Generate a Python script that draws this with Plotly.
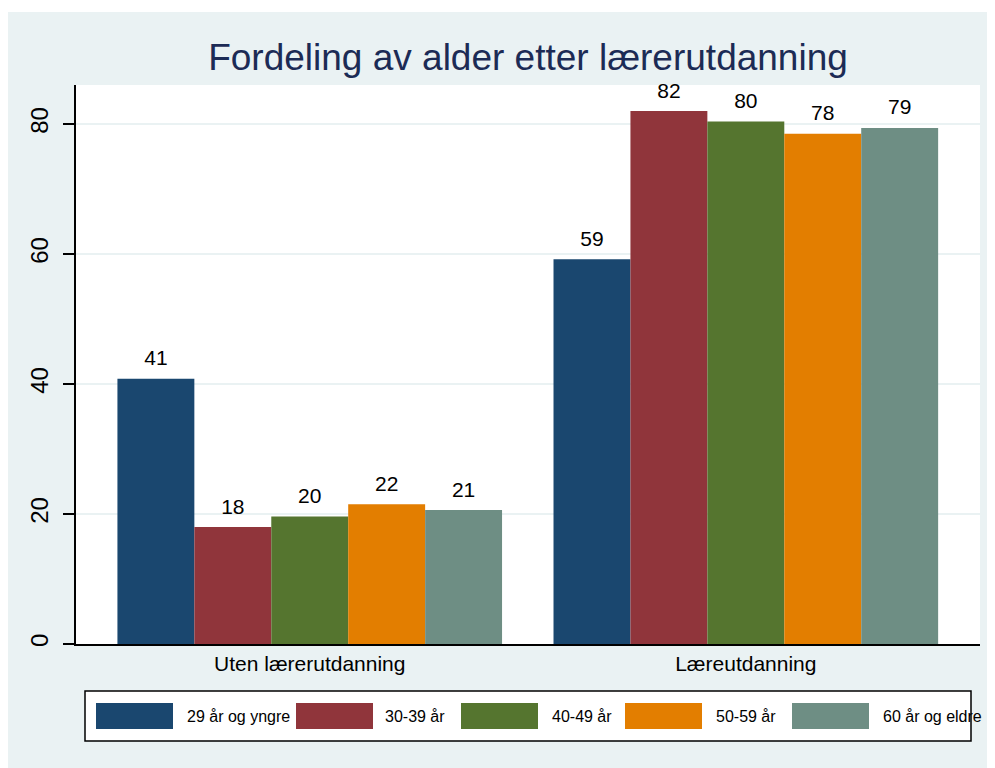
import plotly.graph_objects as go

categories = ["Uten lærerutdanning", "Læreutdanning"]
series_names = ["29 år og yngre", "30-39 år", "40-49 år", "50-59 år", "60 år og eldre"]
colors = ["#1a476f", "#90353b", "#55752f", "#e37e00", "#6e8e84"]
values = {
    "29 år og yngre": [40.8, 59.2],
    "30-39 år": [18.0, 82.0],
    "40-49 år": [19.6, 80.4],
    "50-59 år": [21.5, 78.5],
    "60 år og eldre": [20.6, 79.4],
}
labels = {
    "29 år og yngre": ["41", "59"],
    "30-39 år": ["18", "82"],
    "40-49 år": ["20", "80"],
    "50-59 år": ["22", "78"],
    "60 år og eldre": ["21", "79"],
}
y_ticks = [0, 20, 40, 60, 80]

OFF = 8  # page body margin
W, H = 995, 768
L, R, T, B = 76 - OFF, 980 - OFF, 85 - OFF, 644 - OFF
FONT = "Liberation Sans, Arial, sans-serif"
BG = "#eaf2f3"
LABEL_PAD = 1.0  # extra gap (axis units) between bar top and its label

fig = go.Figure()
for i, (name, col) in enumerate(zip(series_names, colors)):
    fig.add_trace(go.Bar(
        x=categories, y=values[name], name=name, offsetgroup=str(i),
        marker=dict(color=col, line=dict(width=0)),
        showlegend=False,
    ))
    # invisible spacer bar carrying the value label just above the real bar
    fig.add_trace(go.Bar(
        x=categories, y=[LABEL_PAD] * len(categories), base=values[name],
        offsetgroup=str(i), marker=dict(color="rgba(0,0,0,0)", line=dict(width=0)),
        text=labels[name], textposition="outside",
        textfont=dict(size=21, color="black", family=FONT),
        cliponaxis=False, showlegend=False, hoverinfo="skip",
    ))

def px_x(p):
    return (p - OFF - L) / (R - L)

def px_y(p):
    return (B - (p - OFF)) / (B - T)

shapes = []
annotations = []
shapes.append(dict(type="rect", xref="paper", yref="paper",
                   x0=px_x(85), x1=px_x(971), y0=px_y(741), y1=px_y(691),
                   line=dict(color="black", width=1.5), fillcolor="white", layer="below"))
sw_x = [96, 296, 461, 625, 792]
tx_x = [185, 383, 550, 714, 881]
for i, (name, col) in enumerate(zip(series_names, colors)):
    shapes.append(dict(type="rect", xref="paper", yref="paper",
                       x0=px_x(sw_x[i]), x1=px_x(sw_x[i] + 77),
                       y0=px_y(729), y1=px_y(703),
                       line=dict(width=0), fillcolor=col, layer="above"))
    annotations.append(dict(xref="paper", yref="paper", x=px_x(tx_x[i]), y=px_y(716),
                            xanchor="left", yanchor="middle", showarrow=False,
                            text=name, font=dict(size=16, color="black", family=FONT)))
shapes.append(dict(type="rect", xref="paper", yref="paper",
                   x0=px_x(0), x1=px_x(W + 20), y0=px_y(12), y1=px_y(0),
                   line=dict(width=0), fillcolor="white", layer="above"))

fig.update_layout(
    width=W, height=H,
    margin=dict(l=L, r=W - R, t=T, b=H - B, pad=0),
    paper_bgcolor=BG, plot_bgcolor="white",
    barmode="group", bargap=0.118, bargroupgap=0,
    font=dict(family=FONT, color="black"),
    title=dict(text="Fordeling av alder etter lærerutdanning",
               x=px_x(528), xref="paper", xanchor="center",
               y=1 - (57 - OFF) / H, yref="container", yanchor="middle",
               font=dict(size=37, color="#1c2b55", family=FONT)),
    xaxis=dict(range=[-0.536, 1.537], showline=True, linecolor="black", linewidth=1.5,
               ticks="", showgrid=False, tickfont=dict(size=21, color="black"),
               ticklabelstandoff=0, zeroline=False),
    yaxis=dict(range=[0, 86.0], tickvals=y_ticks, ticks="outside", ticklen=11,
               tickcolor="black", tickwidth=1.5,
               showline=True, linecolor="black", linewidth=1.5,
               showgrid=True, gridcolor=BG, gridwidth=2, zeroline=False,
               tickangle=-90, tickfont=dict(size=24, color="black"),
               ticklabelstandoff=6),
    shapes=shapes, annotations=annotations,
)

fig.write_html("out.html")
